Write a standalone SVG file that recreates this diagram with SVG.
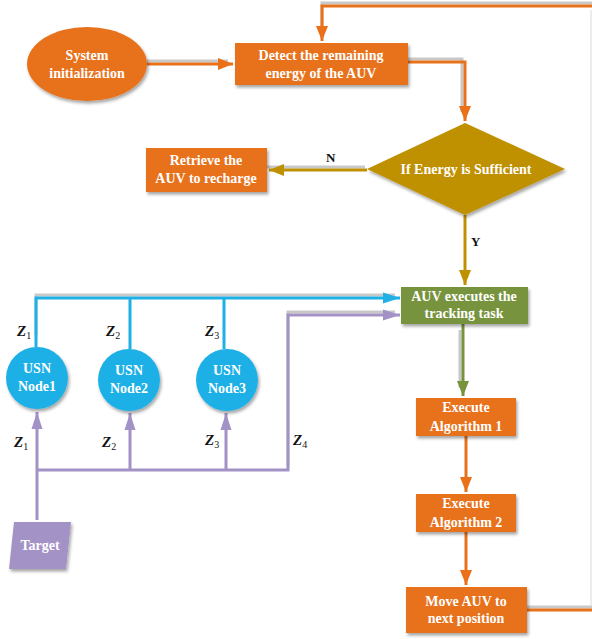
<svg xmlns="http://www.w3.org/2000/svg" width="592" height="639" viewBox="0 0 592 639">
<style>
.t{font-family:"Liberation Serif","Times New Roman",serif;font-weight:bold;font-size:14px;fill:#fff;text-anchor:middle}
.z{font-family:"Liberation Serif","Times New Roman",serif;font-weight:bold;font-style:italic;font-size:15px;fill:#111}
.s{font-style:normal;font-weight:normal;font-size:10px}
.lb{font-family:"Liberation Serif","Times New Roman",serif;font-weight:bold;font-size:13px;fill:#111}
.c{fill:none;stroke-width:3}
.or{stroke:#E8711A}.gd{stroke:#BF9000}.gr{stroke:#77933C}.bl{stroke:#1FB0E6}.pu{stroke:#A392C6}
.sh{fill:none;stroke:#bbb;stroke-width:3}
</style>
<defs>
<filter id="ds" x="-20%" y="-20%" width="140%" height="150%"><feDropShadow dx="1.5" dy="2.5" stdDeviation="1.5" flood-color="#000" flood-opacity="0.35"/></filter>
<marker id="aO" markerUnits="userSpaceOnUse" markerWidth="16" markerHeight="14" refX="15" refY="7" orient="auto"><path d="M0,1 L15,7 L0,13 Z" fill="#E8711A"/></marker>
<marker id="aG" markerUnits="userSpaceOnUse" markerWidth="16" markerHeight="14" refX="15" refY="7" orient="auto"><path d="M0,1 L15,7 L0,13 Z" fill="#BF9000"/></marker>
<marker id="aV" markerUnits="userSpaceOnUse" markerWidth="16" markerHeight="14" refX="15" refY="7" orient="auto"><path d="M0,1 L15,7 L0,13 Z" fill="#77933C"/></marker>
<marker id="aB" markerUnits="userSpaceOnUse" markerWidth="18" markerHeight="14" refX="17" refY="7" orient="auto"><path d="M0,1.5 L17,7 L0,12.5 Z" fill="#1FB0E6"/></marker>
<marker id="aP" markerUnits="userSpaceOnUse" markerWidth="18" markerHeight="14" refX="17" refY="7" orient="auto"><path d="M0,1.5 L17,7 L0,12.5 Z" fill="#A392C6"/></marker>
</defs>
<g id="connectors">
<g opacity="0.8">
<path class="sh" d="M147,61 L228,61"/>
<path class="sh" d="M322,37 L322,3 L600,3"/>
<path class="sh" d="M408,59 L462,59 L462,112"/>
<path class="sh" d="M267,167 L365,167"/>
<path class="sh" d="M36,335 L36,295 L395,295"/>
<path class="sh" d="M288,466 L288,312 L395,312"/>
<path class="sh" d="M460,330 L460,388"/>
<path class="sh" d="M527,607 L600,607"/>
</g>
<path d="M591,10 L591,605" stroke="#e6e6e6" stroke-width="1.5" fill="none"/>
<path class="c or" d="M147,64 L233,64" marker-end="url(#aO)"/>
<path class="c or" d="M527,610 L600,610 L600,6 L322,6 L322,41" marker-end="url(#aO)"/>
<path class="c or" d="M408,62 L465,62 L465,121" marker-end="url(#aO)"/>
<path class="c gd" d="M367,170 L269,170" marker-end="url(#aG)"/>
<path class="c gd" d="M465,215 L465,285" marker-end="url(#aG)"/>
<path class="c gr" d="M463,324 L463,396" marker-end="url(#aV)"/>
<path class="c or" d="M466,436 L466,492" marker-end="url(#aO)"/>
<path class="c or" d="M466,532 L466,585" marker-end="url(#aO)"/>
<path class="c bl" d="M36,347 L36,298 L400,298" marker-end="url(#aB)"/>
<path class="c bl" d="M130,298 L130,349"/>
<path class="c bl" d="M224,298 L224,349"/>
<path class="c pu" d="M37,520 L37,412" marker-end="url(#aP)"/>
<path class="c pu" d="M37,470 L288,470 L288,315 L400,315" marker-end="url(#aP)"/>
<path class="c pu" d="M130,470 L130,413" marker-end="url(#aP)"/>
<path class="c pu" d="M226,470 L226,413" marker-end="url(#aP)"/>
<text class="lb" x="326" y="162">N</text>
<text class="lb" x="471" y="246">Y</text>
<text class="z" x="17" y="336">Z<tspan class="s" dy="3">1</tspan></text>
<text class="z" x="106" y="336">Z<tspan class="s" dy="3">2</tspan></text>
<text class="z" x="205" y="336">Z<tspan class="s" dy="3">3</tspan></text>
<text class="z" x="14" y="447">Z<tspan class="s" dy="3">1</tspan></text>
<text class="z" x="102" y="447">Z<tspan class="s" dy="3">2</tspan></text>
<text class="z" x="205" y="445">Z<tspan class="s" dy="3">3</tspan></text>
<text class="z" x="293" y="445">Z<tspan class="s" dy="3">4</tspan></text>
</g>
<g id="init"><ellipse cx="87" cy="64" rx="60" ry="37" fill="#E8711A" filter="url(#ds)"/><text class="t" x="87" y="60">System</text><text class="t" x="87" y="78">initialization</text></g>
<g id="detect"><rect x="235" y="43" width="173" height="42" fill="#E8711A" filter="url(#ds)"/><text class="t" x="321" y="60">Detect the remaining</text><text class="t" x="321" y="78">energy of the AUV</text></g>
<g id="decision"><path d="M465,123 L565,169 L465,215 L367,169 Z" fill="#BF9000" filter="url(#ds)"/><text class="t" x="466" y="174">If Energy is Sufficient</text></g>
<g id="retrieve"><rect x="146" y="148" width="121" height="44" fill="#E8711A" filter="url(#ds)"/><text class="t" x="206" y="165">Retrieve the</text><text class="t" x="206" y="183">AUV to recharge</text></g>
<g id="track"><rect x="401" y="287" width="127" height="37" fill="#77933C" filter="url(#ds)"/><text class="t" x="464" y="301">AUV executes the</text><text class="t" x="464" y="318">tracking task</text></g>
<g id="alg1"><rect x="416" y="398" width="100" height="38" fill="#E8711A" filter="url(#ds)"/><text class="t" x="466" y="412">Execute</text><text class="t" x="466" y="431">Algorithm 1</text></g>
<g id="alg2"><rect x="416" y="494" width="100" height="38" fill="#E8711A" filter="url(#ds)"/><text class="t" x="466" y="508">Execute</text><text class="t" x="466" y="527">Algorithm 2</text></g>
<g id="move"><rect x="406" y="587" width="121" height="46" fill="#E8711A" filter="url(#ds)"/><text class="t" x="466" y="606">Move AUV to</text><text class="t" x="466" y="623">next position</text></g>
<g id="node1"><circle cx="37" cy="378" r="31" fill="#1FB0E6" filter="url(#ds)"/><text class="t" x="37" y="373">USN</text><text class="t" x="37" y="391">Node1</text></g>
<g id="node2"><circle cx="129" cy="380" r="31" fill="#1FB0E6" filter="url(#ds)"/><text class="t" x="129" y="375">USN</text><text class="t" x="129" y="393">Node2</text></g>
<g id="node3"><circle cx="227" cy="380" r="31" fill="#1FB0E6" filter="url(#ds)"/><text class="t" x="227" y="375">USN</text><text class="t" x="227" y="393">Node3</text></g>
<g id="target"><path d="M14,522 L71,522 L66,569 L9,569 Z" fill="#A392C6" filter="url(#ds)"/><text class="t" x="40" y="550">Target</text></g>
</svg>
